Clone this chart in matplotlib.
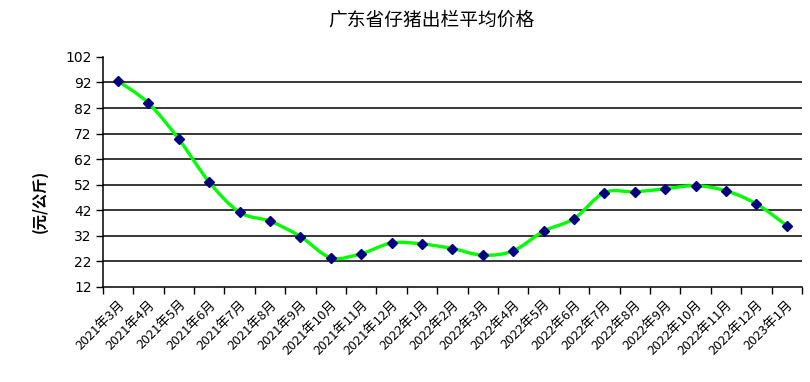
import numpy as np
import matplotlib
matplotlib.use("Agg")
import matplotlib.pyplot as plt
from matplotlib.path import Path
from matplotlib.patches import PathPatch

plt.rcParams['font.family'] = ['Noto Sans CJK SC', 'DejaVu Sans']

months = ['2021年3月', '2021年4月', '2021年5月', '2021年6月', '2021年7月', '2021年8月',
          '2021年9月', '2021年10月', '2021年11月', '2021年12月', '2022年1月', '2022年2月',
          '2022年3月', '2022年4月', '2022年5月', '2022年6月', '2022年7月', '2022年8月',
          '2022年9月', '2022年10月', '2022年11月', '2022年12月', '2023年1月']
prices = [92.6, 83.9, 69.8, 53.0, 41.2, 37.7, 31.7, 23.4, 25.0, 29.2, 28.8, 27.0,
          24.4, 26.1, 33.8, 38.7, 48.9, 49.2, 50.4, 51.6, 49.6, 44.5, 36.0]
yticks = [12, 22, 32, 42, 52, 62, 72, 82, 92, 102]

fig = plt.figure(figsize=(8.1, 3.82), dpi=100)
ax = fig.add_axes([0.127, 0.249, 0.863, 0.602])

x = np.arange(len(prices))
y = np.array(prices)

# smoothed line like the spreadsheet one: cubic bezier segments
t = 1 / 6
verts = [(x[0], y[0])]
codes = [Path.MOVETO]
for i in range(len(x) - 1):
    p0 = (x[max(i - 1, 0)], y[max(i - 1, 0)])
    p1 = (x[i], y[i])
    p2 = (x[i + 1], y[i + 1])
    p3 = (x[min(i + 2, len(x) - 1)], y[min(i + 2, len(x) - 1)])
    c1 = (p1[0] + (p2[0] - p0[0]) * t, p1[1] + (p2[1] - p0[1]) * t)
    c2 = (p2[0] - (p3[0] - p1[0]) * t, p2[1] - (p3[1] - p1[1]) * t)
    verts += [c1, c2, p2]
    codes += [Path.CURVE4] * 3
ax.add_patch(PathPatch(Path(verts, codes), facecolor='none', edgecolor='#00FF00', lw=2.4, zorder=3))
ax.plot(x, y, linestyle='none', marker='D', markersize=5, color='#000080', zorder=4)

ax.set_xlim(-0.5, len(x) - 0.5)
ax.set_ylim(12, 102)
ax.set_yticks(yticks)
ax.set_yticklabels([str(v) for v in yticks], fontsize=10, family='DejaVu Sans')
for v in yticks[1:-1]:
    ax.axhline(v, color='black', lw=1.1, zorder=1)

ax.set_xticks(np.arange(len(x) + 1) - 0.5)
ax.set_xticklabels([])
ax.set_xticks(x, minor=True)
ax.set_xticklabels(months, minor=True, rotation=45, ha='right', va='top',
                   rotation_mode='anchor', fontsize=9.5)
ax.tick_params(axis='x', which='minor', length=0, pad=8)
ax.tick_params(axis='x', which='major', length=5, width=1, direction='out', color='black')
ax.tick_params(axis='y', length=5, width=1, direction='out', pad=3)

ax.spines['top'].set_visible(False)
ax.spines['right'].set_visible(False)
ax.spines['left'].set_linewidth(1.1)
ax.spines['bottom'].set_linewidth(1.1)

fig.text(40 / 810, 1 - 201 / 382, '(元/公斤)', rotation=90, ha='center', va='center',
         fontsize=11, fontweight='bold')
fig.text(431 / 810, 1 - 20 / 382, '广东省仔猪出栏平均价格', ha='center', va='center', fontsize=13.5)

fig.savefig('out.png', dpi=100)
